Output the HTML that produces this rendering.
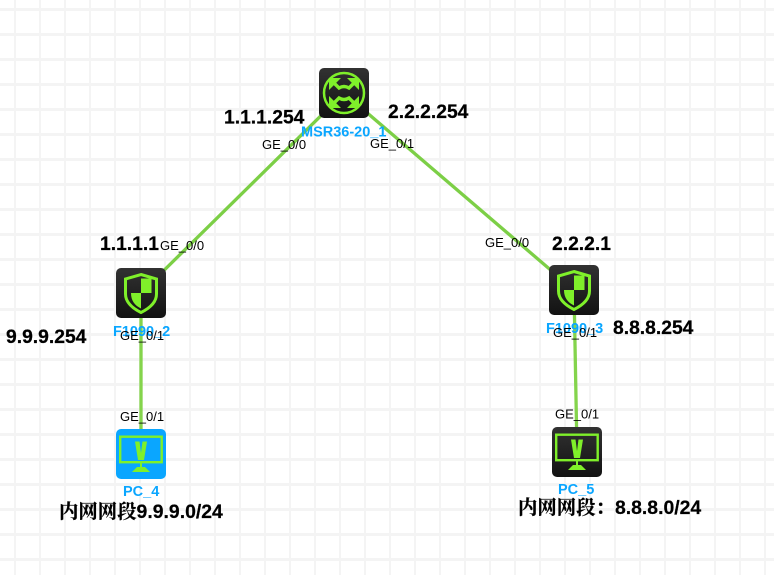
<!DOCTYPE html>
<html><head><meta charset="utf-8"><style>html,body{margin:0;padding:0;background:#fff}svg{display:block}
.l{font:13px "Liberation Sans",sans-serif;fill:#000}
.b{font:bold 19.3px "Liberation Sans",sans-serif;fill:#000;stroke:#000;stroke-width:.25}
.n{font:bold 14.5px "Liberation Sans",sans-serif;fill:#0aa6ff}
.c{font:bold 19.4px "Liberation Sans","Noto Serif CJK SC",serif;fill:#000;stroke:#000;stroke-width:.2}
</style></head><body>
<svg width="774" height="575" viewBox="0 0 774 575" xmlns="http://www.w3.org/2000/svg">
<defs>
<pattern id="g" width="25" height="25" patternUnits="userSpaceOnUse" x="14" y="8">
<rect x="0" y="0" width="2" height="25" fill="#f4f4f4"/>
<rect x="0" y="0" width="25" height="3" fill="#f4f4f4"/>
</pattern>
<linearGradient id="d" x1="0" y1="0" x2="0" y2="1"><stop offset="0" stop-color="#323232"/><stop offset="1" stop-color="#121212"/></linearGradient>
<g id="fw">
<path d="M25 6.5 L40.5 11 V26 C40.5 35 33 40.5 25 44.5 C17 40.5 9.5 35 9.5 26 V11 Z" fill="none" stroke="#7ff02a" stroke-width="3"/>
<path d="M25 10.5 H35.5 V25 H25 Z M25 25 V40.5 C19 37.5 15 33 15 25 Z" fill="#7ff02a"/>
</g>
<g id="pc">
<rect x="4.2" y="7.7" width="41.5" height="25.5" fill="none" stroke="#7ff02a" stroke-width="2.4"/>
<path d="M19 12.5 H23.5 L25 24 L26.5 12.500 H31 L28 31 H22 Z" fill="#7ff02a"/>
<rect x="24" y="34" width="2" height="4" fill="#7ff02a"/>
<path d="M21 38 H29 L34 43 H16 Z" fill="#7ff02a"/>
</g>
</defs>
<rect width="774" height="575" fill="url(#g)"/>
<g stroke="#7ccf46" stroke-width="3.3" fill="none">
<line x1="344" y1="93" x2="141" y2="293"/>
<line x1="344" y1="93" x2="574" y2="290"/>
<line x1="141" y1="293" x2="141" y2="454" stroke="#84d44c"/>
<line x1="574" y1="290" x2="577" y2="452" stroke="#84d44c"/>
</g>
<g transform="translate(319,68)">
<rect width="50" height="50" rx="5" fill="url(#d)"/>
<circle cx="25" cy="25" r="20" fill="none" stroke="#7ff02a" stroke-width="2.5"/>
<path fill="#7ff02a" d="M10 10 H22 L10 22 Z M40 10 V22 L28 10 Z M10 40 V28 L22 40 Z M40 40 H28 L40 28 Z"/>
<g fill="none" stroke="#7ff02a" stroke-width="3.4">
<path d="M14 14 L20 20 Q25 17 30 20 L36 14"/>
<path d="M14 36 L20 30 Q25 33 30 30 L36 36"/>
</g>
</g>
<g transform="translate(116,268)"><rect width="50" height="50" rx="5" fill="url(#d)"/><use href="#fw"/></g>
<g transform="translate(549,265)"><rect width="50" height="50" rx="5" fill="url(#d)"/><use href="#fw"/></g>
<g transform="translate(116,429)"><rect width="50" height="50" rx="5" fill="#0aa6ff"/><use href="#pc"/></g>
<g transform="translate(552,427)"><rect width="50" height="50" rx="5" fill="url(#d)"/><use href="#pc"/></g>
<text class="n" x="301" y="136.5">MSR36-20_1</text>
<text class="n" x="113" y="336">F1090_2</text>
<text class="n" x="546" y="333">F1090_3</text>
<text class="n" x="123" y="496">PC_4</text>
<text class="n" x="558" y="494">PC_5</text>
<text class="l" x="262" y="149">GE_0/0</text>
<text class="l" x="370" y="148">GE_0/1</text>
<text class="l" x="160" y="250">GE_0/0</text>
<text class="l" x="485" y="247">GE_0/0</text>
<text class="l" x="120" y="340">GE_0/1</text>
<text class="l" x="553" y="337">GE_0/1</text>
<text class="l" x="120" y="421">GE_0/1</text>
<text class="l" x="555" y="418.5">GE_0/1</text>
<text class="b" x="224" y="123.5">1.1.1.254</text>
<text class="b" x="388" y="118">2.2.2.254</text>
<text class="b" x="100" y="250">1.1.1.1</text>
<text class="b" x="552" y="250">2.2.2.1</text>
<text class="b" x="6" y="343">9.9.9.254</text>
<text class="b" x="613" y="334">8.8.8.254</text>
<text class="c" x="59" y="518">内网网段9.9.9.0/24</text>
<text class="c" x="518" y="514">内网网段：8.8.8.0/24</text>
</svg>
</body></html>
